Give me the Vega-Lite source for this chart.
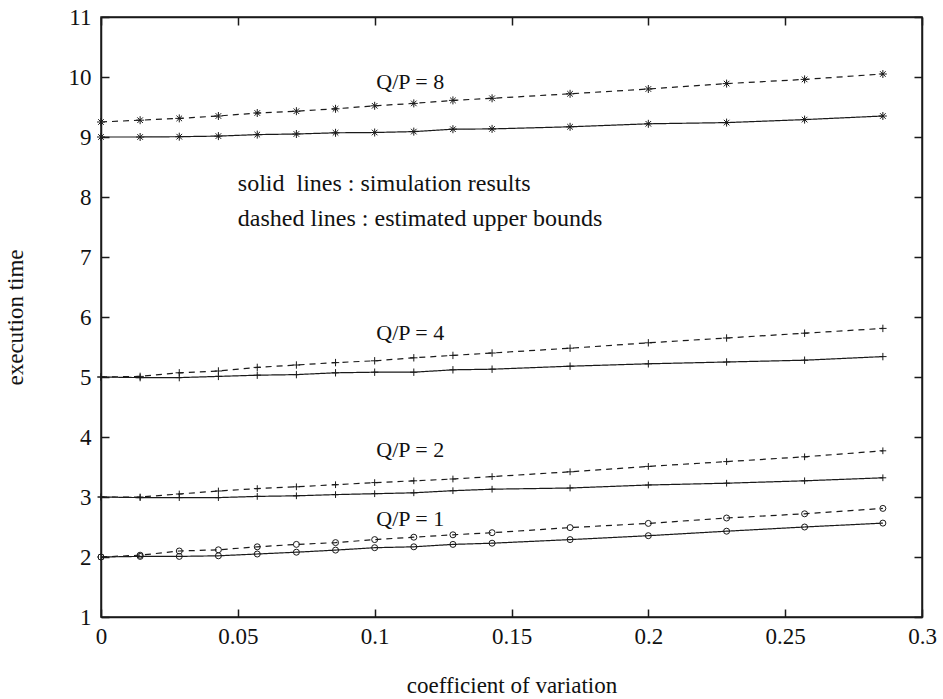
{
  "$schema": "https://vega.github.io/schema/vega-lite/v6.json",
  "width": 821,
  "height": 600,
  "autosize": "none",
  "padding": {"left": 101, "top": 17, "right": 21, "bottom": 82},
  "background": "white",
  "config": {
    "view": {"stroke": "#1a1a1a", "strokeWidth": 1.5},
    "axis": {"grid": false, "tickSize": -8, "tickColor": "#1a1a1a", "tickWidth": 1.5, "domainColor": "#1a1a1a", "domainWidth": 1.5}
  },
  "datasets": {
    "curves": [
      {"g":"8","k":"sim","x":0,"y":9.0},{"g":"8","k":"sim","x":0.0143,"y":9.0},{"g":"8","k":"sim","x":0.0286,"y":9.005},{"g":"8","k":"sim","x":0.0429,"y":9.015},{"g":"8","k":"sim","x":0.0571,"y":9.04},{"g":"8","k":"sim","x":0.0714,"y":9.05},{"g":"8","k":"sim","x":0.0857,"y":9.07},{"g":"8","k":"sim","x":0.1,"y":9.075},{"g":"8","k":"sim","x":0.1143,"y":9.09},{"g":"8","k":"sim","x":0.1286,"y":9.13},{"g":"8","k":"sim","x":0.1429,"y":9.135},{"g":"8","k":"sim","x":0.1714,"y":9.17},{"g":"8","k":"sim","x":0.2,"y":9.22},{"g":"8","k":"sim","x":0.2286,"y":9.24},{"g":"8","k":"sim","x":0.2571,"y":9.29},{"g":"8","k":"sim","x":0.2857,"y":9.35},
      {"g":"8","k":"bound","x":0,"y":9.25},{"g":"8","k":"bound","x":0.0143,"y":9.28},{"g":"8","k":"bound","x":0.0286,"y":9.31},{"g":"8","k":"bound","x":0.0429,"y":9.35},{"g":"8","k":"bound","x":0.0571,"y":9.4},{"g":"8","k":"bound","x":0.0714,"y":9.43},{"g":"8","k":"bound","x":0.0857,"y":9.47},{"g":"8","k":"bound","x":0.1,"y":9.52},{"g":"8","k":"bound","x":0.1143,"y":9.56},{"g":"8","k":"bound","x":0.1286,"y":9.61},{"g":"8","k":"bound","x":0.1429,"y":9.645},{"g":"8","k":"bound","x":0.1714,"y":9.72},{"g":"8","k":"bound","x":0.2,"y":9.8},{"g":"8","k":"bound","x":0.2286,"y":9.89},{"g":"8","k":"bound","x":0.2571,"y":9.96},{"g":"8","k":"bound","x":0.2857,"y":10.05},
      {"g":"4","k":"sim","x":0,"y":5.0},{"g":"4","k":"sim","x":0.0143,"y":4.99},{"g":"4","k":"sim","x":0.0286,"y":4.99},{"g":"4","k":"sim","x":0.0429,"y":5.01},{"g":"4","k":"sim","x":0.0571,"y":5.03},{"g":"4","k":"sim","x":0.0714,"y":5.04},{"g":"4","k":"sim","x":0.0857,"y":5.07},{"g":"4","k":"sim","x":0.1,"y":5.08},{"g":"4","k":"sim","x":0.1143,"y":5.08},{"g":"4","k":"sim","x":0.1286,"y":5.12},{"g":"4","k":"sim","x":0.1429,"y":5.13},{"g":"4","k":"sim","x":0.1714,"y":5.18},{"g":"4","k":"sim","x":0.2,"y":5.22},{"g":"4","k":"sim","x":0.2286,"y":5.25},{"g":"4","k":"sim","x":0.2571,"y":5.28},{"g":"4","k":"sim","x":0.2857,"y":5.34},
      {"g":"4","k":"bound","x":0,"y":5.0},{"g":"4","k":"bound","x":0.0143,"y":5.01},{"g":"4","k":"bound","x":0.0286,"y":5.07},{"g":"4","k":"bound","x":0.0429,"y":5.1},{"g":"4","k":"bound","x":0.0571,"y":5.16},{"g":"4","k":"bound","x":0.0714,"y":5.2},{"g":"4","k":"bound","x":0.0857,"y":5.24},{"g":"4","k":"bound","x":0.1,"y":5.27},{"g":"4","k":"bound","x":0.1143,"y":5.32},{"g":"4","k":"bound","x":0.1286,"y":5.36},{"g":"4","k":"bound","x":0.1429,"y":5.4},{"g":"4","k":"bound","x":0.1714,"y":5.48},{"g":"4","k":"bound","x":0.2,"y":5.57},{"g":"4","k":"bound","x":0.2286,"y":5.65},{"g":"4","k":"bound","x":0.2571,"y":5.73},{"g":"4","k":"bound","x":0.2857,"y":5.81},
      {"g":"2","k":"sim","x":0,"y":3.0},{"g":"2","k":"sim","x":0.0143,"y":2.99},{"g":"2","k":"sim","x":0.0286,"y":2.99},{"g":"2","k":"sim","x":0.0429,"y":2.99},{"g":"2","k":"sim","x":0.0571,"y":3.01},{"g":"2","k":"sim","x":0.0714,"y":3.02},{"g":"2","k":"sim","x":0.0857,"y":3.04},{"g":"2","k":"sim","x":0.1,"y":3.055},{"g":"2","k":"sim","x":0.1143,"y":3.07},{"g":"2","k":"sim","x":0.1286,"y":3.105},{"g":"2","k":"sim","x":0.1429,"y":3.13},{"g":"2","k":"sim","x":0.1714,"y":3.15},{"g":"2","k":"sim","x":0.2,"y":3.2},{"g":"2","k":"sim","x":0.2286,"y":3.23},{"g":"2","k":"sim","x":0.2571,"y":3.27},{"g":"2","k":"sim","x":0.2857,"y":3.32},
      {"g":"2","k":"bound","x":0,"y":3.0},{"g":"2","k":"bound","x":0.0143,"y":3.0},{"g":"2","k":"bound","x":0.0286,"y":3.05},{"g":"2","k":"bound","x":0.0429,"y":3.1},{"g":"2","k":"bound","x":0.0571,"y":3.14},{"g":"2","k":"bound","x":0.0714,"y":3.17},{"g":"2","k":"bound","x":0.0857,"y":3.205},{"g":"2","k":"bound","x":0.1,"y":3.24},{"g":"2","k":"bound","x":0.1143,"y":3.27},{"g":"2","k":"bound","x":0.1286,"y":3.3},{"g":"2","k":"bound","x":0.1429,"y":3.34},{"g":"2","k":"bound","x":0.1714,"y":3.42},{"g":"2","k":"bound","x":0.2,"y":3.51},{"g":"2","k":"bound","x":0.2286,"y":3.59},{"g":"2","k":"bound","x":0.2571,"y":3.67},{"g":"2","k":"bound","x":0.2857,"y":3.77},
      {"g":"1","k":"sim","x":0,"y":2.0},{"g":"1","k":"sim","x":0.0143,"y":2.01},{"g":"1","k":"sim","x":0.0286,"y":2.01},{"g":"1","k":"sim","x":0.0429,"y":2.02},{"g":"1","k":"sim","x":0.0571,"y":2.05},{"g":"1","k":"sim","x":0.0714,"y":2.08},{"g":"1","k":"sim","x":0.0857,"y":2.115},{"g":"1","k":"sim","x":0.1,"y":2.155},{"g":"1","k":"sim","x":0.1143,"y":2.17},{"g":"1","k":"sim","x":0.1286,"y":2.21},{"g":"1","k":"sim","x":0.1429,"y":2.23},{"g":"1","k":"sim","x":0.1714,"y":2.29},{"g":"1","k":"sim","x":0.2,"y":2.355},{"g":"1","k":"sim","x":0.2286,"y":2.43},{"g":"1","k":"sim","x":0.2571,"y":2.5},{"g":"1","k":"sim","x":0.2857,"y":2.565},
      {"g":"1","k":"bound","x":0,"y":2.0},{"g":"1","k":"bound","x":0.0143,"y":2.03},{"g":"1","k":"bound","x":0.0286,"y":2.1},{"g":"1","k":"bound","x":0.0429,"y":2.12},{"g":"1","k":"bound","x":0.0571,"y":2.17},{"g":"1","k":"bound","x":0.0714,"y":2.21},{"g":"1","k":"bound","x":0.0857,"y":2.24},{"g":"1","k":"bound","x":0.1,"y":2.29},{"g":"1","k":"bound","x":0.1143,"y":2.33},{"g":"1","k":"bound","x":0.1286,"y":2.37},{"g":"1","k":"bound","x":0.1429,"y":2.405},{"g":"1","k":"bound","x":0.1714,"y":2.49},{"g":"1","k":"bound","x":0.2,"y":2.56},{"g":"1","k":"bound","x":0.2286,"y":2.65},{"g":"1","k":"bound","x":0.2571,"y":2.72},{"g":"1","k":"bound","x":0.2857,"y":2.81}
    ],
    "qp": [
      {"x":0.113,"y":9.92,"t":"Q/P = 8"},
      {"x":0.113,"y":5.73,"t":"Q/P = 4"},
      {"x":0.113,"y":3.78,"t":"Q/P = 2"},
      {"x":0.113,"y":2.64,"t":"Q/P = 1"}
    ],
    "notes": [
      {"x":0.05,"y":8.21,"t":"solid\u00a0 lines : simulation results"},
      {"x":0.05,"y":7.63,"t":"dashed lines : estimated upper bounds"}
    ]
  },
  "layer": [
    {
      "data": {"name": "curves"},
      "mark": {"type": "line", "color": "#1a1a1a", "strokeWidth": 1.2},
      "encoding": {
        "x": {"field": "x", "type": "quantitative",
              "scale": {"domain": [0, 0.3], "nice": false},
              "axis": {"orient": "bottom", "values": [0, 0.05, 0.1, 0.15, 0.2, 0.25, 0.3], "format": "~g",
                       "labelPadding": 16, "labelFlush": false, "labelFont": "Liberation Serif", "labelFontSize": 23, "labelColor": "#111",
                       "title": "coefficient of variation", "titleY": 68, "titleBaseline": "middle",
                       "titleFont": "Liberation Serif", "titleFontSize": 23, "titleFontWeight": "normal", "titleColor": "#111"}},
        "y": {"field": "y", "type": "quantitative",
              "scale": {"domain": [1, 11], "nice": false},
              "axis": {"orient": "left", "values": [1, 2, 3, 4, 5, 6, 7, 8, 9, 10, 11], "format": "d",
                       "labelPadding": 18, "labelFont": "Liberation Serif", "labelFontSize": 23, "labelColor": "#111",
                       "title": "execution time", "titleX": -86, "titleY": 300,
                       "titleBaseline": "middle", "titleAngle": -90, "titleAlign": "center",
                       "titleFont": "Liberation Serif", "titleFontSize": 23, "titleFontWeight": "normal", "titleColor": "#111"}},
        "detail": {"field": "g"},
        "strokeDash": {"field": "k", "type": "nominal",
                       "scale": {"domain": ["sim", "bound"], "range": [[1, 0], [6, 5]]}, "legend": null}
      }
    },
    {
      "mark": {"type": "rule", "color": "#1a1a1a", "strokeWidth": 1.5},
      "encoding": {
        "y": {"datum": 11, "type": "quantitative", "axis": null}
      }
    },
    {
      "mark": {"type": "rule", "color": "#1a1a1a", "strokeWidth": 1.5},
      "encoding": {
        "x": {"datum": 0.3, "type": "quantitative", "axis": null}
      }
    },
    {
      "data": {"name": "curves"},
      "mark": {"type": "point", "filled": false, "color": "#1a1a1a", "strokeWidth": 1, "opacity": 1},
      "encoding": {
        "x": {"field": "x", "type": "quantitative",
              "axis": {"orient": "top", "tickCount": 6, "labels": false, "title": null}},
        "y": {"field": "y", "type": "quantitative",
              "axis": {"orient": "right", "tickCount": 10, "labels": false, "title": null}},
        "shape": {"field": "g", "type": "nominal",
                  "scale": {"domain": ["1", "2", "4", "8"],
                            "range": ["circle", "M-1,0L1,0M0,-1L0,1", "M-1,0L1,0M0,-1L0,1", "M-1,0L1,0M0,-1L0,1M-0.7,-0.7L0.7,0.7M-0.7,0.7L0.7,-0.7"]},
                  "legend": null},
        "size": {"field": "g", "type": "ordinal",
                 "scale": {"domain": ["1", "2", "4", "8"], "range": [36, 64, 100, 49]}, "legend": null}
      }
    },
    {
      "data": {"name": "qp"},
      "mark": {"type": "text", "align": "center", "baseline": "middle", "fontSize": 22, "font": "Liberation Serif", "color": "#111"},
      "encoding": {
        "x": {"field": "x", "type": "quantitative", "axis": null},
        "y": {"field": "y", "type": "quantitative", "axis": null},
        "text": {"field": "t"}
      }
    },
    {
      "data": {"name": "notes"},
      "mark": {"type": "text", "align": "left", "baseline": "middle", "fontSize": 24, "font": "Liberation Serif", "color": "#111"},
      "encoding": {
        "x": {"field": "x", "type": "quantitative", "axis": null},
        "y": {"field": "y", "type": "quantitative", "axis": null},
        "text": {"field": "t"}
      }
    }
  ],
  "resolve": {"axis": {"x": "independent", "y": "independent"}}
}
